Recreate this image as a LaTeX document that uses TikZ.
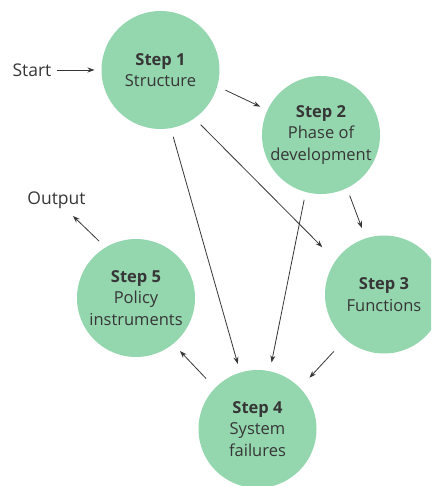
\documentclass[tikz,border=0pt]{standalone}
\usepackage{fontspec}
\setmainfont{Open Sans}
\usetikzlibrary{arrows.meta}
\definecolor{stepfill}{HTML}{94D6AE}
\definecolor{ink}{HTML}{363636}
\begin{document}
\begin{tikzpicture}[x=1pt,y=1pt,
  stepnode/.style={circle, fill=stepfill, minimum size=118pt, inner sep=0pt, outer sep=0pt, align=center, text=ink, font=\fontsize{16.5}{21.7}\selectfont},
  lbl/.style={text=ink, font=\fontsize{17.5}{21}\selectfont, inner sep=1pt},
  arr/.style={draw=ink, line width=0.8pt, -{Stealth[length=7pt,width=5pt]}}]
\useasboundingbox (0,0) rectangle (431,486);
\begin{scope}
\clip (0,0) rectangle (431,486);
\node[stepnode] (s1) at (160.5,416) {{\bfseries Step 1}\\Structure};
\node[stepnode] (s2) at (321,351) {{\bfseries Step 2}\\Phase of\\development};
\node[stepnode] (s3) at (384,191.5) {{\bfseries Step 3}\\Functions};
\node[stepnode] (s4) at (257.5,57) {{\bfseries Step 4}\\System\\failures};
\node[stepnode] (s5) at (136,188) {{\bfseries Step 5}\\Policy\\instruments};
\end{scope}
\node[lbl] (start) at (32,416) {Start};
\node[lbl] (outp) at (56.5,286) {Output};
\coordinate (outend) at (73,270);
\draw[arr, shorten >=7pt, shorten <=4pt] (start) -- (s1);
\draw[arr, shorten <=9pt, shorten >=8pt] (s1.-16.2) -- (s2.155.3);
\draw[arr, shorten <=9pt, shorten >=9pt] (s1.-80.3) -- (s4.107.5);
\draw[arr, shorten <=9pt, shorten >=19pt] (s1.-55.5) -- (s3.145.8);
\draw[arr, shorten <=8pt, shorten >=9pt] (s2.-105.5) -- (s4.78.6);
\draw[arr, shorten <=8pt, shorten >=11pt] (s2.-64.6) -- (s3.108.6);
\draw[arr, shorten <=17pt, shorten >=14pt] (s3.-131) -- (s4.44.2);
\draw[arr, shorten <=13pt, shorten >=10pt] (s4.136.4) -- (s5.-51.5);
\draw[arr, shorten <=9pt] (s5.121.8) -- (outend);
\end{tikzpicture}
\end{document}
